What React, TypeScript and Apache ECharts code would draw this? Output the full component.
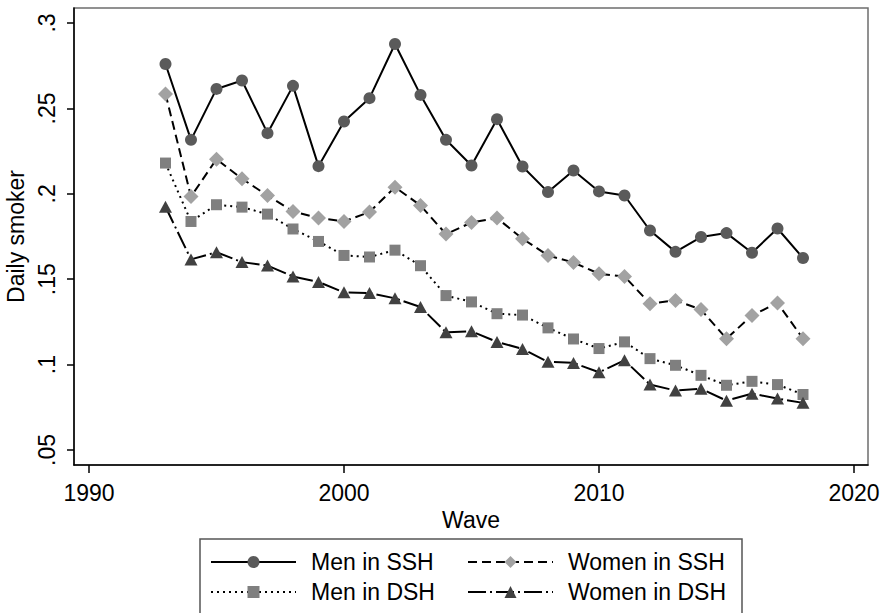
import React, { useEffect, useRef } from "react";
import * as echarts from "echarts";

const years = [1993, 1994, 1995, 1996, 1997, 1998, 1999, 2000, 2001, 2002, 2003, 2004, 2005, 2006, 2007, 2008, 2009, 2010, 2011, 2012, 2013, 2014, 2015, 2016, 2017, 2018];
const menSSH = [0.276, 0.2316, 0.2614, 0.2663, 0.2355, 0.2632, 0.2162, 0.2423, 0.256, 0.2877, 0.2579, 0.2316, 0.2166, 0.2437, 0.216, 0.201, 0.2136, 0.2014, 0.199, 0.1785, 0.166, 0.1747, 0.177, 0.1655, 0.1797, 0.1624];
const womenSSH = [0.2585, 0.1984, 0.2203, 0.2088, 0.199, 0.1897, 0.1858, 0.1838, 0.1893, 0.2039, 0.1932, 0.1764, 0.1832, 0.1858, 0.1737, 0.1639, 0.1598, 0.1532, 0.1516, 0.1357, 0.1376, 0.1322, 0.1152, 0.1288, 0.1361, 0.1152];
const menDSH = [0.218, 0.1838, 0.1936, 0.1922, 0.1881, 0.1794, 0.1721, 0.1639, 0.163, 0.167, 0.1579, 0.1404, 0.1367, 0.1298, 0.129, 0.1215, 0.115, 0.1094, 0.1133, 0.1035, 0.0996, 0.0937, 0.0879, 0.0902, 0.0883, 0.0825];
const womenDSH = [0.1924, 0.1616, 0.1658, 0.160, 0.158, 0.1516, 0.1484, 0.1423, 0.1419, 0.1388, 0.1337, 0.1189, 0.1195, 0.1133, 0.1092, 0.1016, 0.101, 0.0955, 0.1025, 0.0883, 0.0848, 0.0858, 0.0789, 0.083, 0.0801, 0.0776];
const xTicks = [1990, 2000, 2010, 2020];
const yTicks = [0.05, 0.1, 0.15, 0.2, 0.25, 0.3];
const names = ["Men in SSH", "Women in SSH", "Men in DSH", "Women in DSH"];
const xTitle = "Wave";
const yTitle = "Daily smoker";

const FONT = "'Liberation Sans', Arial, Helvetica, sans-serif";

export default function App() {
  const ref = useRef<HTMLDivElement>(null);
  useEffect(() => {
    if (!ref.current) return;
    const chart = echarts.init(ref.current, null, { renderer: "svg" });
    const pairs = (vals: number[]) => years.map((y, i) => [y, vals[i]]);
    const textStyle = { fontSize: 23, fontFamily: FONT, color: "#000" };
    const legendCommon = {
      orient: "vertical",
      top: 550,
      padding: 0,
      itemWidth: 85,
      itemHeight: 15,
      itemGap: 6,
      selectedMode: false,
      textStyle: { ...textStyle, lineHeight: 24, padding: [0, 0, 0, 10] },
    };
    chart.setOption({
      animation: false,
      backgroundColor: "#fff",
      grid: {
        left: 74,
        top: 8,
        right: 15,
        bottom: 148,
        containLabel: false,
        outerBoundsMode: "none",
        show: true,
        borderColor: "#6e6e6e",
        borderWidth: 1.5,
        backgroundColor: "transparent",
      },
      xAxis: {
        type: "value",
        min: 1989.412,
        max: 2020.549,
        name: xTitle,
        nameLocation: "middle",
        nameGap: 37,
        nameTextStyle: textStyle,
        splitLine: { show: false },
        axisLine: { show: true, onZero: false, lineStyle: { color: "#000", width: 1.5 } },
        axisTick: { show: true, length: 8, customValues: xTicks, lineStyle: { color: "#000", width: 1.5 } },
        axisLabel: { customValues: xTicks, margin: 16, ...textStyle, formatter: (v: number) => String(Math.round(v)) },
      },
      yAxis: {
        type: "value",
        min: 0.04122,
        max: 0.30878,
        name: yTitle,
        nameLocation: "middle",
        nameRotate: 90,
        nameGap: 36,
        nameTextStyle: textStyle,
        splitLine: { show: false },
        axisLine: { show: true, onZero: false, lineStyle: { color: "#000", width: 1.5 } },
        axisTick: { show: true, length: 7, customValues: yTicks, lineStyle: { color: "#000", width: 1.5 } },
        axisLabel: {
          customValues: yTicks,
          rotate: 90,
          margin: 16,
          ...textStyle,
          formatter: (v: number) => String(parseFloat(v.toFixed(4))).replace(/^0/, ""),
        },
      },
      legend: [
        { ...legendCommon, left: 210, data: [names[0], names[2]] },
        { ...legendCommon, left: 467, data: [names[1], names[3]] },
      ],
      graphic: [
        {
          type: "rect",
          shape: { x: 200, y: 539, width: 542, height: 120 },
          style: { fill: "none", stroke: "#555", lineWidth: 1.5 },
          silent: true,
        },
      ],
      series: [
        {
          name: names[0],
          type: "line",
          data: pairs(menSSH),
          symbol: "circle",
          symbolSize: 12,
          itemStyle: { color: "#5a5a5a" },
          lineStyle: { color: "#000", width: 2, type: "solid" },
        },
        {
          name: names[1],
          type: "line",
          data: pairs(womenSSH),
          symbol: "diamond",
          symbolSize: 15,
          itemStyle: { color: "#a2a2a2" },
          lineStyle: { color: "#000", width: 2, type: [9, 5] },
        },
        {
          name: names[2],
          type: "line",
          data: pairs(menDSH),
          symbol: "rect",
          symbolSize: 11,
          itemStyle: { color: "#7f7f7f" },
          lineStyle: { color: "#000", width: 2, type: [2, 4] },
        },
        {
          name: names[3],
          type: "line",
          data: pairs(womenDSH),
          symbol: "triangle",
          symbolSize: [13, 12],
          itemStyle: { color: "#414141" },
          lineStyle: { color: "#000", width: 2, type: [18, 4, 2, 4] },
        },
      ],
    });
    return () => chart.dispose();
  }, []);
  return (
    <div
      ref={ref}
      style={{ position: "fixed", left: 0, top: 0, width: 883, height: 613 }}
    />
  );
}
